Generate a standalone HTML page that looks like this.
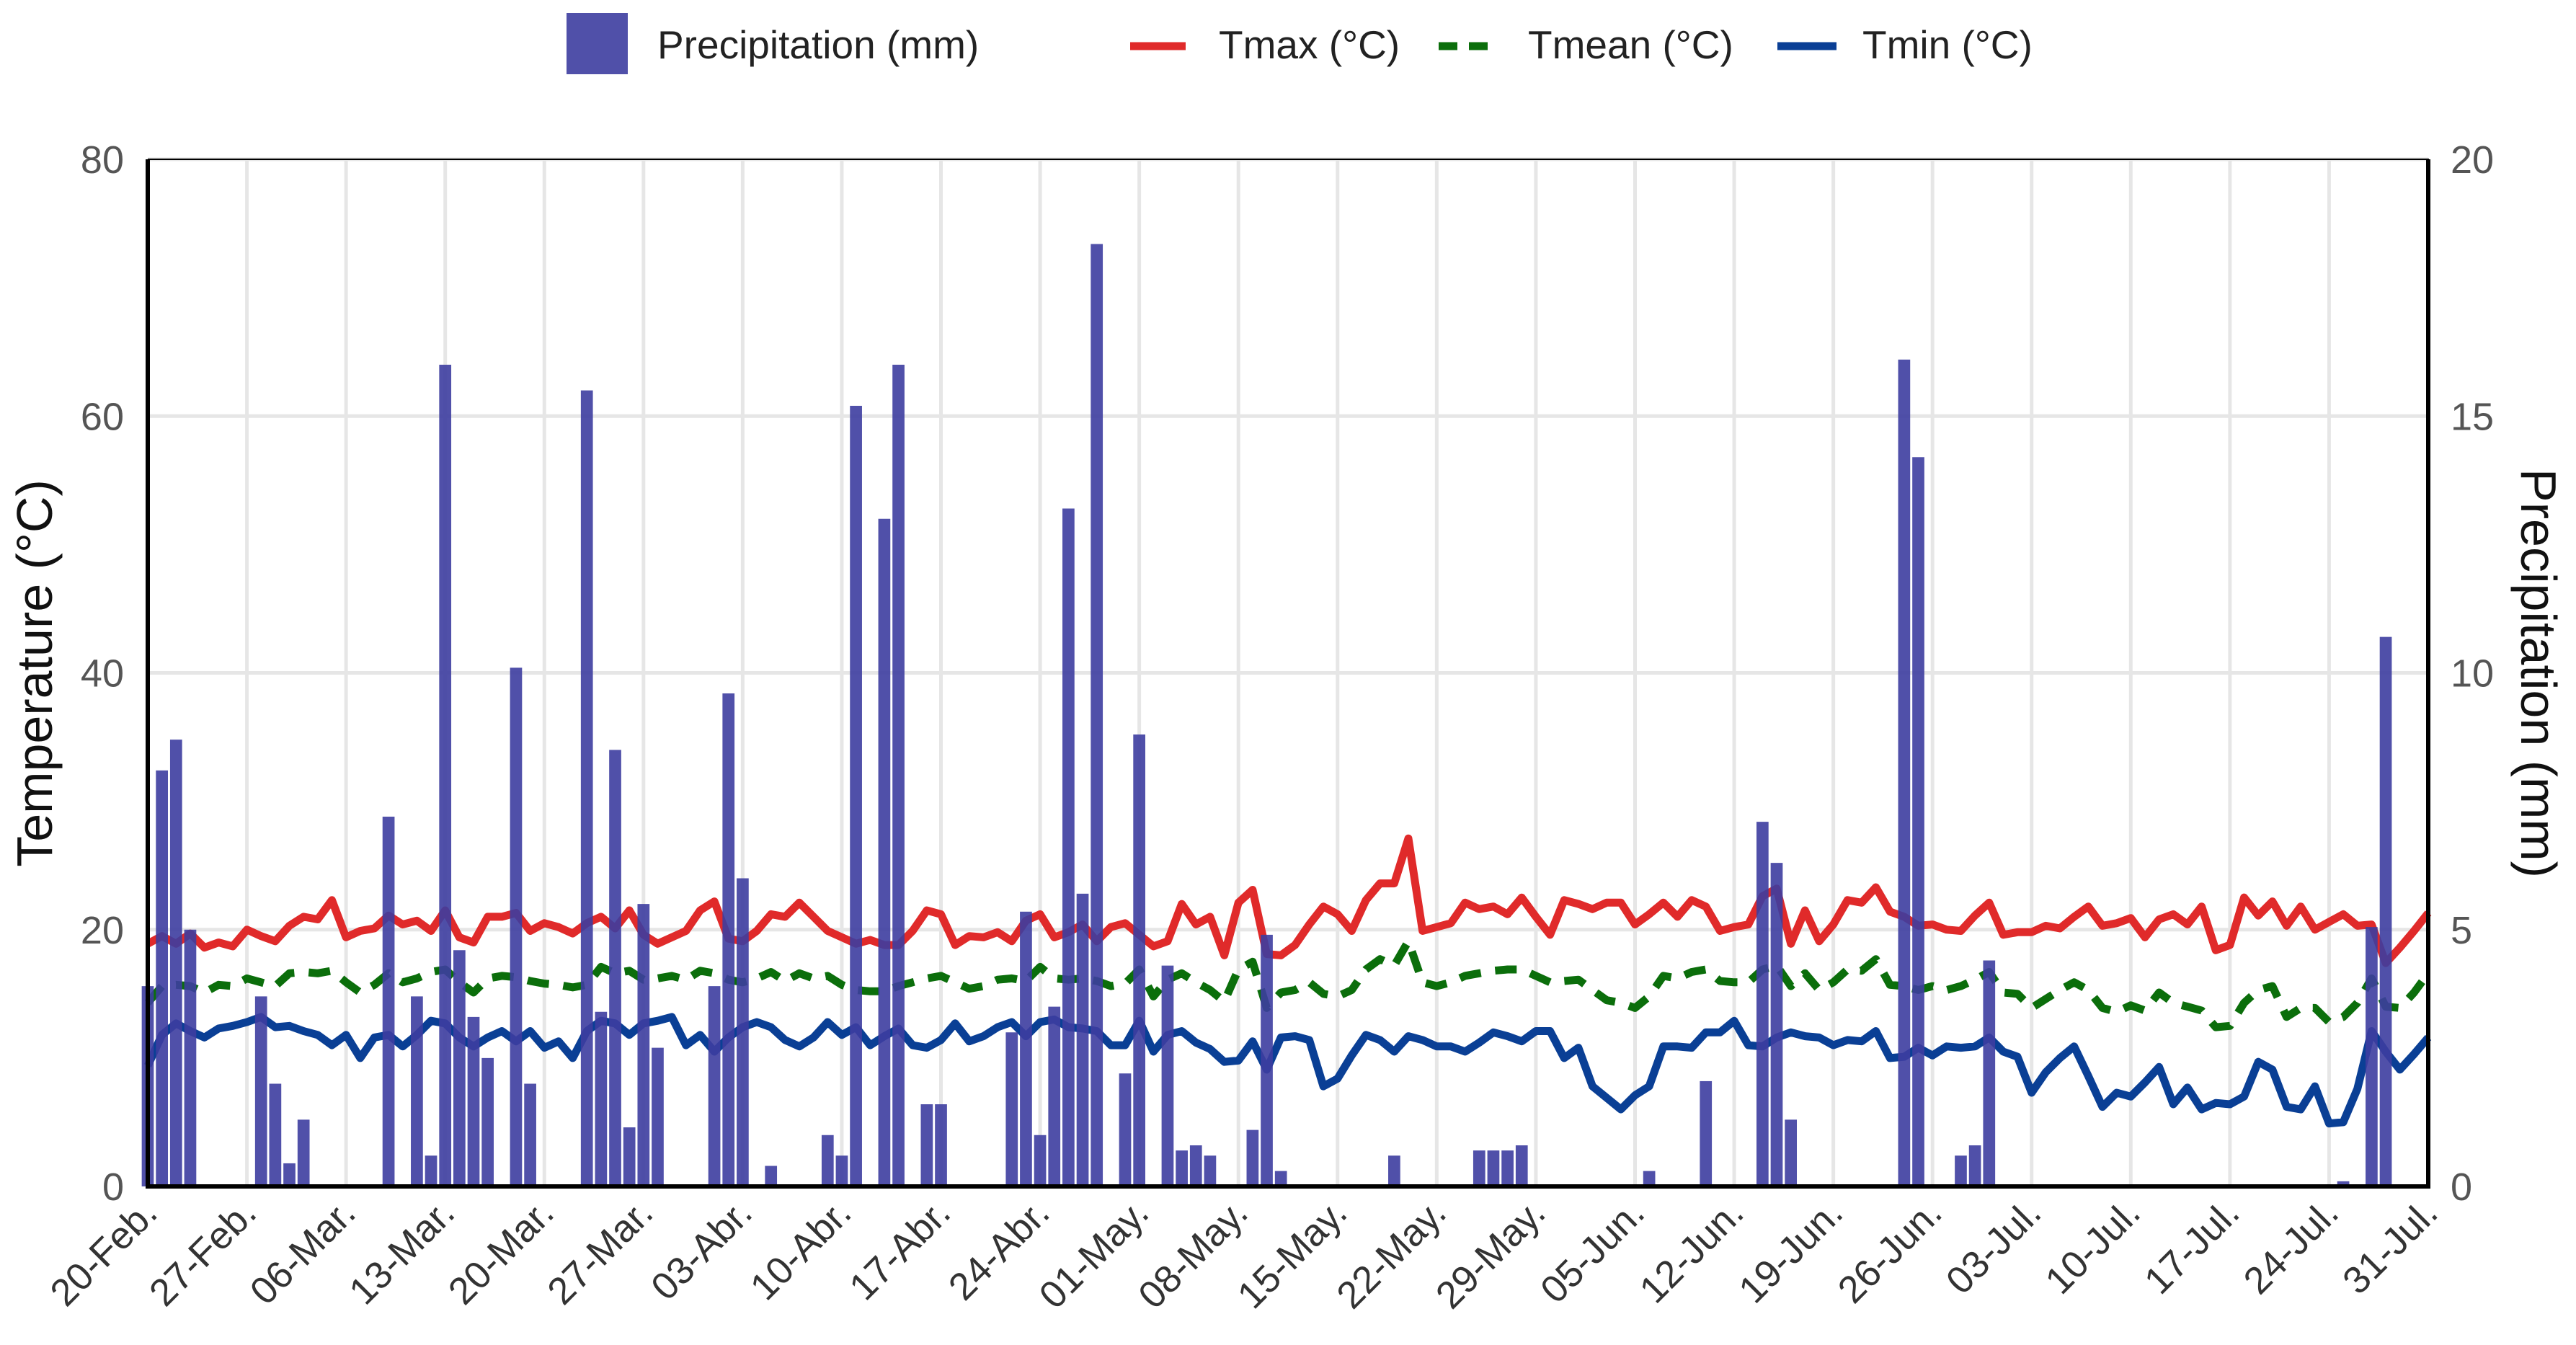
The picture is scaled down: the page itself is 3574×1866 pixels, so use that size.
<!DOCTYPE html>
<html><head><meta charset="utf-8"><style>
html,body{margin:0;padding:0;background:#fff}
svg{display:block}
text{font-family:"Liberation Sans",Arial,sans-serif}
</style></head><body>
<svg id="chart" width="3574" height="1866" viewBox="0 0 3574 1866" xmlns="http://www.w3.org/2000/svg">
<g id="legend">
 <rect x="786" y="18" width="85" height="85" fill="#3d3da0" opacity="0.9"/>
 <text x="912" y="81" font-size="55" fill="#222">Precipitation (mm)</text>
 <line x1="1568" y1="64" x2="1645" y2="64" stroke="#e02a2a" stroke-width="11"/>
 <text x="1691" y="81" font-size="55" fill="#222">Tmax (°C)</text>
 <line x1="1996" y1="64" x2="2078" y2="64" stroke="#0b6e0b" stroke-width="11" stroke-dasharray="26,16"/>
 <text x="2120" y="81" font-size="55" fill="#222">Tmean (°C)</text>
 <line x1="2466" y1="64" x2="2548" y2="64" stroke="#0a3f95" stroke-width="11"/>
 <text x="2584" y="81" font-size="55" fill="#222">Tmin (°C)</text>
</g>
<g id="grid"></g>
<g id="lines"></g>
<g id="bars"></g>
<g id="axes"></g>
<text transform="translate(72,934) rotate(-90)" text-anchor="middle" font-size="70" fill="#111">Temperature (°C)</text>
<text transform="translate(3498,934) rotate(90)" text-anchor="middle" font-size="70" fill="#111">Precipitation (mm)</text>
</svg>
<script>
const tickLabels=["20-Feb.","27-Feb.","06-Mar.","13-Mar.","20-Mar.","27-Mar.","03-Abr.","10-Abr.","17-Abr.","24-Abr.","01-May.","08-May.","15-May.","22-May.","29-May.","05-Jun.","12-Jun.","19-Jun.","26-Jun.","03-Jul.","10-Jul.","17-Jul.","24-Jul.","31-Jul."];
const tempTicks=[0,20,40,60,80];
const precTicks=[0,5,10,15,20];
const tmax=[18.9,19.5,18.9,19.7,18.6,19.0,18.7,20.0,19.5,19.1,20.3,21.0,20.8,22.3,19.4,19.9,20.1,21.1,20.4,20.7,19.9,21.5,19.4,19.0,21.0,21.0,21.3,19.9,20.5,20.2,19.7,20.5,21.0,20.1,21.5,19.6,18.9,19.4,19.9,21.5,22.2,19.3,19.1,19.9,21.2,21.0,22.1,21.0,19.9,19.4,18.9,19.2,18.8,18.8,19.9,21.5,21.2,18.8,19.5,19.4,19.8,19.1,20.7,21.2,19.4,19.8,20.4,19.1,20.2,20.5,19.6,18.7,19.1,22.0,20.4,21.0,18.0,22.1,23.1,18.1,18.0,18.8,20.4,21.8,21.2,19.9,22.3,23.6,23.6,27.1,19.9,20.2,20.5,22.1,21.6,21.8,21.2,22.5,21.0,19.6,22.3,22.0,21.6,22.1,22.1,20.4,21.2,22.1,21.0,22.3,21.8,19.9,20.2,20.4,22.6,23.2,18.9,21.5,19.1,20.4,22.3,22.1,23.3,21.4,21.0,20.3,20.4,20.0,19.9,21.1,22.1,19.6,19.8,19.8,20.3,20.1,21.0,21.8,20.3,20.5,20.9,19.4,20.8,21.2,20.4,21.8,18.4,18.8,22.5,21.1,22.2,20.3,21.8,20.0,20.6,21.2,20.3,20.4,17.4,18.6,19.9,21.3];
const tmean=[14.3,15.6,15.7,15.6,15.1,15.7,15.6,16.2,15.9,15.6,16.6,16.7,16.6,16.8,15.9,15.1,15.7,16.6,15.9,16.2,16.7,16.9,15.9,15.1,16.2,16.4,16.3,16.0,15.8,15.7,15.5,15.7,17.1,16.6,16.8,16.1,16.2,16.4,16.1,16.8,16.6,16.1,15.9,16.2,16.7,16.0,16.6,16.2,16.4,15.7,15.3,15.2,15.2,15.6,15.9,16.2,16.4,15.9,15.4,15.6,16.1,16.2,16.0,17.1,16.2,16.1,16.2,16.0,15.6,15.8,16.9,14.8,16.1,16.6,15.9,15.3,14.4,16.9,17.5,13.9,15.1,15.3,15.9,15.0,14.8,15.3,16.9,17.7,17.2,19.1,15.9,15.6,15.9,16.4,16.6,16.8,16.9,16.9,16.4,15.9,16.0,16.1,15.3,14.5,14.3,13.9,14.8,16.4,16.2,16.7,16.9,16.0,15.9,15.9,16.9,17.2,15.6,16.6,15.3,15.9,16.9,16.8,17.7,15.7,15.6,15.3,15.6,15.3,15.6,16.1,16.7,15.1,15.0,13.9,14.6,15.3,15.9,15.3,13.9,13.6,14.1,13.7,15.1,14.3,14.0,13.7,12.4,12.5,14.3,15.3,15.6,13.2,13.9,13.9,12.8,13.2,14.3,16.2,14.0,13.9,15.1,16.6];
const tmin=[9.4,11.8,12.7,12.1,11.6,12.3,12.5,12.8,13.2,12.4,12.5,12.1,11.8,11.0,11.8,10.0,11.6,11.8,10.9,11.8,12.9,12.7,11.6,10.9,11.6,12.1,11.3,12.1,10.8,11.3,10.0,12.1,12.9,12.7,11.8,12.7,12.9,13.2,11.0,11.8,10.5,11.6,12.4,12.8,12.4,11.4,10.9,11.6,12.8,11.8,12.4,11.0,11.7,12.3,11.0,10.8,11.4,12.7,11.3,11.7,12.4,12.8,11.7,12.8,13.0,12.4,12.3,12.1,11.0,11.0,12.9,10.5,11.8,12.1,11.2,10.7,9.7,9.8,11.3,9.1,11.6,11.7,11.4,7.8,8.4,10.2,11.8,11.4,10.5,11.7,11.4,10.9,10.9,10.5,11.2,12.0,11.7,11.3,12.1,12.1,10.0,10.8,7.8,6.9,6.0,7.1,7.8,10.9,10.9,10.8,12.0,12.0,12.9,11.0,10.9,11.6,12.0,11.7,11.6,11.0,11.4,11.3,12.1,10.0,10.1,10.8,10.2,10.9,10.8,10.9,11.6,10.5,10.1,7.3,8.9,10.0,10.9,8.6,6.2,7.3,7.0,8.1,9.3,6.4,7.7,6.0,6.5,6.4,7.0,9.7,9.1,6.2,6.0,7.8,4.9,5.0,7.6,12.1,10.5,9.1,10.3,11.6];
const rainDays=[0,1,2,3,8,9,10,11,17,19,20,21,22,23,24,26,27,31,32,33,34,35,36,40,41,42,44,48,49,50,52,53,55,56,61,62,63,64,65,66,67,69,70,72,73,74,75,78,79,80,88,94,95,96,97,106,110,114,115,116,124,125,128,129,130,155,157,158];
const rainMm=[3.9,8.1,8.7,5.0,3.7,2.0,0.45,1.3,7.2,3.7,0.6,16.0,4.6,3.3,2.5,10.1,2.0,15.5,3.4,8.5,1.15,5.5,2.7,3.9,9.6,6.0,0.4,1.0,0.6,15.2,13.0,16.0,1.6,1.6,3.0,5.35,1.0,3.5,13.2,5.7,18.35,2.2,8.8,4.3,0.7,0.8,0.6,1.1,4.9,0.3,0.6,0.7,0.7,0.7,0.8,0.3,2.05,7.1,6.3,1.3,16.1,14.2,0.6,0.8,4.4,0.1,5.05,10.7];

const NS="http://www.w3.org/2000/svg";
const L=205,R=3369,T=221,B=1646,N=162;
const x=d=>L+(R-L)*d/(N-1);
const yT=v=>B-(B-T)*v/80;
const yP=v=>B-(B-T)*v/20;
function mk(tag,attrs,parent){const e=document.createElementNS(NS,tag);for(const k in attrs)e.setAttribute(k,attrs[k]);parent.appendChild(e);return e;}
const grid=document.getElementById('grid'),lines=document.getElementById('lines'),bars=document.getElementById('bars'),axes=document.getElementById('axes');
tempTicks.forEach((t,i)=>{
 const g=mk('line',{x1:L,x2:R,y1:yT(t),y2:yT(t),stroke:'#e6e6e6','stroke-width':5},grid);
 
 
 const lt=mk('text',{x:172,y:yT(t)+19,'text-anchor':'end','font-size':54,fill:'#555'},axes);
 lt.textContent=t;
 
 
});
precTicks.forEach(p=>{
 const rt=mk('text',{x:3400,y:yP(p)+19,'font-size':54,fill:'#555'},axes);
 rt.textContent=p;
 
 
});
tickLabels.forEach((lab,i)=>{
 const d=Math.min(i*7,N-1);
 const vx=x(d);
 const g=mk('line',{x1:vx,x2:vx,y1:T,y2:B,stroke:'#e6e6e6','stroke-width':5},grid);
 
 
 const tx=mk('text',{transform:`translate(${vx+16},${B+40}) rotate(-45)`,'text-anchor':'end','font-size':53,fill:'#333'},axes);
 tx.textContent=lab;
 
 
});
function series(arr,color,name,dash){
 const pts=arr.map((v,i)=>x(i).toFixed(1)+','+yT(v).toFixed(1)).join(' ');
 const p=mk('polyline',{points:pts,fill:'none',stroke:color,'stroke-width':11,'stroke-linejoin':'round'},lines);
 if(dash)p.setAttribute('stroke-dasharray',dash);
 
 
}
series(tmax,'#e02a2a','tmax-line');
series(tmean,'#0b6e0b','tmean-line','30,20');
series(tmin,'#0a3f95','tmin-line');
const bw=(R-L)/(N-1)*0.85;
rainDays.forEach((d,i)=>{
 const v=rainMm[i];
 const b=mk('rect',{x:x(d)-bw/2,y:yP(v),width:bw,height:B-yP(v),fill:'#3d3da0',opacity:0.9},bars);
 
 
});
const ax=mk('path',{d:`M${L},${T} L${L},${B} L${R},${B} L${R},${T} L${L},${T}`,fill:'none',stroke:'#000','stroke-width':2},axes);


const ax2=mk('path',{d:`M${L},${T} L${L},${B} L${R},${B} L${R},${T}`,fill:'none',stroke:'#000','stroke-width':6},axes);


</script>
</body></html>
